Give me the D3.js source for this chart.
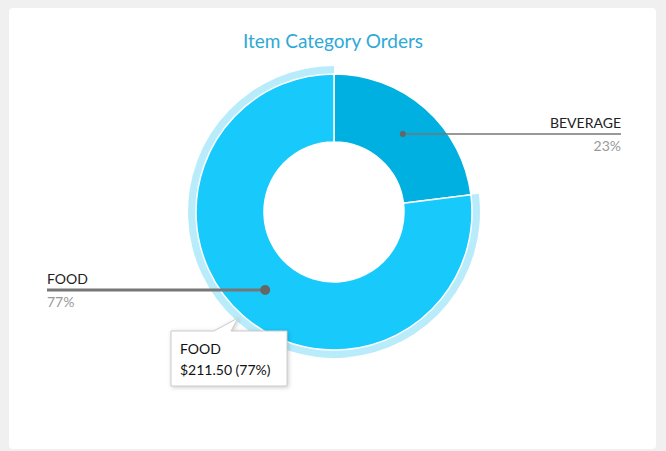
<!DOCTYPE html><html><head><meta charset="utf-8">
<script src="https://cdn.jsdelivr.net/npm/d3@7"></script>
<style>body{margin:0;background:#f0f0f0;font-family:Lato,"Open Sans",sans-serif}</style></head><body>
<svg id="c" width="666" height="451"></svg>
<script>
const categories=["BEVERAGE","FOOD"];
const values=[63.2,211.5];
const percents=["23%","77%"];
const colors=["#00b0e0","#18cafc"];
const svg=d3.select("#c");
svg.append("rect").attr("x",9).attr("y",8).attr("width",647).attr("height",441).attr("rx",4).attr("fill","#fff");
svg.append("text").attr("x",333).attr("y",48).attr("text-anchor","middle").attr("font-size",19).attr("fill","#2ea9d6").text("Item Category Orders");
const cx=334,cy=212,rI=70,rO=138;
const g=svg.append("g").attr("transform",`translate(${cx},${cy})`);
const arcs=d3.pie().sort(null)(values);
const arc=d3.arc().innerRadius(rI).outerRadius(rO);
const ring=d3.arc().innerRadius(rO).outerRadius(146);
g.append("path").attr("d",ring(arcs[1])).attr("fill","#b9ecfb");
g.selectAll("path.s").data(arcs).enter().append("path").attr("class","s").attr("d",arc).attr("fill",(d,i)=>colors[i]).attr("stroke","#fff").attr("stroke-width",1.5);
const mid=d3.arc().innerRadius((rI+rO)/2).outerRadius((rI+rO)/2);
arcs.forEach((d,i)=>{
  const [x,y]=mid.centroid(d);const px=cx+x,py=cy+y;
  const right=i===0;const ex=right?621:47;
  svg.append("line").attr("x1",px).attr("y1",py).attr("x2",ex).attr("y2",py).attr("stroke","#777").attr("stroke-width",right?1.5:3);
  svg.append("circle").attr("cx",px).attr("cy",py).attr("r",right?3:5).attr("fill","#666");
  svg.append("text").attr("x",ex).attr("y",py-6).attr("text-anchor",right?"end":"start").attr("font-size",14).attr("fill","#222").text(categories[i]);
  svg.append("text").attr("x",ex).attr("y",py+17).attr("text-anchor",right?"end":"start").attr("font-size",14).attr("fill","#999").text(percents[i]);
});
const tg=svg.append("g");
tg.append("path").attr("d","M171,331 H214 L238,318 L231,331 H287 V386 H171 Z").attr("fill","#fff").attr("stroke","#ccc").style("filter","drop-shadow(1px 1px 2px rgba(0,0,0,0.2))");
tg.append("text").attr("x",180).attr("y",354).attr("font-size",14).attr("fill","#111").text(categories[1]);
tg.append("text").attr("x",180).attr("y",375).attr("font-size",14).attr("fill","#111").text(`$${values[1].toFixed(2)} (${percents[1]})`);
</script></body></html>
